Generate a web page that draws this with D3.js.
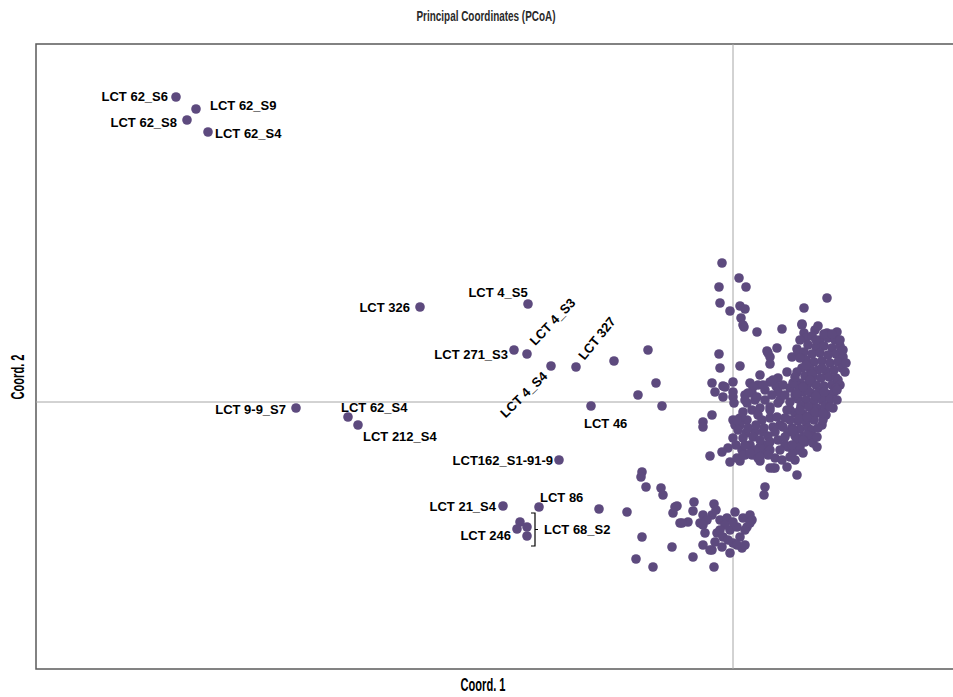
<!DOCTYPE html>
<html>
<head>
<meta charset="utf-8">
<script src="https://cdn.jsdelivr.net/npm/d3@7/dist/d3.min.js"></script>
<style>
  html, body { margin: 0; padding: 0; background: #fff; }
  svg { display: block; }
</style>
</head>
<body>
<svg id="chart" width="953" height="697"></svg>
<script>
// ---------------- DATA ----------------
const chartTitle = "Principal Coordinates (PCoA)";
const xAxisTitle = "Coord. 1";
const yAxisTitle = "Coord. 2";

// labelled samples
const labelNames = [
  "LCT 62_S6", "LCT 62_S9", "LCT 62_S8", "LCT 62_S4", "LCT 326", "LCT 4_S5",
  "LCT 271_S3", "LCT 4_S3", "LCT 4_S4", "LCT 327", "LCT 46", "LCT 9-9_S7",
  "LCT 62_S4", "LCT 212_S4", "LCT162_S1-91-9", "LCT 21_S4", "LCT 86", "LCT 246"
];
const labelCoord1 = [
  -0.557, -0.537, -0.546, -0.525, -0.313, -0.205,
  -0.219, -0.206, -0.182, -0.157, -0.142, -0.437,
  -0.385, -0.375, -0.174, -0.230, -0.194, -0.216
];
const labelCoord2 = [
  0.305, 0.293, 0.282, 0.270, 0.095, 0.098,
  0.052, 0.048, 0.036, 0.035, -0.004, -0.006,
  -0.015, -0.023, -0.058, -0.104, -0.105, -0.127
];

// bracketed group
const groupName = "LCT 68_S2";
const groupCoord1 = [-0.213, -0.206, -0.206];
const groupCoord2 = [-0.120, -0.125, -0.134];

// unlabelled samples [coord1, coord2]
const otherPoints = [
  [-0.119,0.041],[-0.085,0.052],[-0.077,0.019],[-0.095,0.007],[-0.071,-0.004],
  [-0.091,-0.070],[-0.092,-0.075],[-0.087,-0.085],[-0.072,-0.086],[-0.070,-0.093],
  [-0.134,-0.107],[-0.106,-0.110],[-0.056,-0.104],[-0.060,-0.111],[-0.039,-0.100],
  [-0.040,-0.109],[-0.019,-0.102],[-0.053,-0.121],[-0.045,-0.120],[-0.033,-0.121],
  [-0.030,-0.113],[-0.021,-0.113],[-0.013,-0.118],[-0.006,-0.116],[-0.091,-0.135],
  [-0.061,-0.145],[-0.030,-0.143],[-0.021,-0.148],[-0.016,-0.131],[-0.010,-0.135],
  [-0.003,-0.128],[0.004,-0.125],[0.010,-0.116],[0.017,-0.113],[0.014,-0.125],
  [0.007,-0.135],[0.000,-0.141],[-0.003,-0.151],[0.009,-0.146],[-0.097,-0.157],
  [-0.080,-0.165],[-0.040,-0.155],[-0.019,-0.165],[0.032,-0.085],[0.031,-0.093],
  [-0.003,-0.060],[0.007,-0.059],[0.027,-0.059],[0.037,-0.066],
  [-0.058,-0.105],[-0.026,-0.118],[-0.017,-0.108],[-0.008,-0.123],[0.002,-0.110],
  [0.012,-0.128],[0.019,-0.118],[0.000,-0.120],[-0.013,-0.128],[-0.005,-0.138],
  [0.004,-0.143],[-0.018,-0.140],[-0.028,-0.131],[0.012,-0.143],[-0.011,-0.145],
  [-0.030,-0.123],[-0.051,-0.121],[0.017,-0.121],[-0.023,-0.148],
  [-0.011,0.139],[0.006,0.124],[-0.014,0.115],[0.013,0.115],[-0.013,0.099],
  [-0.003,0.091],[0.007,0.096],[0.012,0.093],[0.008,0.084],[0.011,0.075],
  [0.024,0.070],[0.049,0.073],[0.071,0.094],[0.094,0.104],[0.069,0.078],
  [0.071,0.069],[0.082,0.072],[0.085,0.076],[0.094,0.069],[0.104,0.070],
  [-0.014,0.048],[-0.013,0.034],[0.007,0.036],[0.034,0.051],[0.044,0.054],
  [0.037,0.045],[0.037,0.038],[0.059,0.045],[0.064,0.053],
  [0.010,0.077],[0.069,0.077],[0.094,0.067],[0.035,0.049],[0.065,0.050],
  [0.073,0.064],[0.079,0.066],[0.087,0.062],[0.095,0.064],[0.102,0.062],
  [0.075,0.057],[0.083,0.055],[0.091,0.056],[0.099,0.054],[0.107,0.056],
  [0.071,0.050],[0.079,0.048],[0.087,0.049],[0.095,0.047],[0.103,0.048],
  [0.110,0.045],[0.073,0.042],[0.081,0.040],[0.089,0.041],[0.097,0.039],
  [0.105,0.040],[0.069,0.034],[0.077,0.033],[0.085,0.032],[0.093,0.031],
  [0.101,0.032],[0.109,0.034],[0.072,0.026],[0.080,0.025],[0.088,0.024],
  [0.096,0.025],[0.103,0.024],[0.067,0.019],[0.075,0.018],[0.083,0.017],
  [0.091,0.016],[0.099,0.017],[0.070,0.010],[0.078,0.009],[0.086,0.010],
  [0.094,0.008],[0.101,0.010],[0.065,0.003],[0.073,0.002],[0.081,0.001],
  [0.089,0.002],[0.097,0.003],[0.068,-0.004],[0.076,-0.005],[0.084,-0.006],
  [0.092,-0.004],[0.062,-0.011],[0.070,-0.012],[0.078,-0.013],[0.086,-0.011],
  [0.065,-0.019],[0.073,-0.020],[0.081,-0.018],[0.059,-0.026],[0.067,-0.027],
  [0.075,-0.026],[0.062,-0.034],[0.070,-0.035],[0.112,0.030],[0.105,0.022],
  [0.067,0.062],[0.083,0.062],[0.091,0.068],[0.099,0.068],[0.107,0.062],
  [0.067,0.044],[0.113,0.039],[0.110,0.052],[0.107,0.017],[0.075,0.011],
  [0.083,0.006],[0.091,0.010],[0.066,-0.016],[0.074,-0.015],[0.082,-0.010],
  [0.089,-0.023],[0.079,-0.028],[0.072,-0.040],[0.064,-0.038],[0.055,-0.045],
  [0.062,-0.058],[0.052,-0.043],[0.042,-0.056],[0.029,-0.050],[0.019,-0.053],
  [0.009,-0.048],[0.003,-0.043],[0.002,-0.023],[0.014,-0.018],[0.022,-0.030],
  [0.035,-0.034],[0.047,-0.023],[0.057,-0.008],[0.062,0.007],[0.057,0.014],
  [0.047,0.002],[0.037,-0.016],[0.027,-0.006],[0.019,-0.008],[0.013,-0.031],
  [0.033,-0.043],[0.055,-0.030],[0.065,-0.048],[0.077,-0.034],[0.085,-0.026],
  [0.093,-0.013],[0.100,-0.006],[0.103,0.014],[0.089,0.034],[0.073,0.037],
  [0.079,0.028],[0.065,0.016],[0.043,0.016],[0.032,0.012],[0.022,0.002],
  [0.007,-0.016],[-0.005,-0.046],[-0.011,-0.050],
  [-0.021,0.019],[-0.010,0.016],[0.000,0.020],[-0.018,0.010],[0.000,0.005],
  [0.001,-0.001],[0.025,0.017],[0.019,0.009],[0.037,0.020],[0.045,0.024],
  [0.045,0.010],[0.064,0.030],[0.060,0.019],[-0.021,-0.013],[-0.030,-0.020],
  [-0.030,-0.025],[0.000,-0.018],[0.010,-0.010],[0.014,-0.001],[0.025,-0.013],
  [0.029,-0.018],[0.037,-0.008],[0.045,-0.001],[0.000,-0.036],[0.010,-0.036],
  [0.020,-0.035],[0.030,-0.030],[0.040,-0.025],[0.037,-0.040],[0.045,-0.038],
  [-0.023,-0.054],[0.004,-0.056],[0.012,-0.053],[0.025,-0.056],[0.037,-0.048],
  [0.049,-0.058],[0.057,-0.055],[0.042,-0.066],[0.054,-0.065],[0.064,-0.073],
  [0.060,-0.050],[0.067,-0.045],[0.080,-0.041],[0.084,-0.035],[0.074,-0.033],
  [0.090,-0.018],[0.090,-0.011],[0.097,-0.005],[0.104,0.002],[0.104,0.012],
  [0.067,-0.008],[0.057,-0.018],[0.060,-0.028],[0.050,-0.025],[0.064,0.009],
  [0.070,0.015],[0.077,0.022],[0.054,-0.008],[0.070,-0.038],
  [0.007,-0.023],[0.015,-0.026],[0.023,-0.023],[0.031,-0.026],[0.017,-0.043],
  [0.027,-0.045],[0.042,-0.030],[0.052,-0.035],[0.059,-0.043],[0.047,-0.048],
  [0.035,-0.053],[0.022,-0.048],[0.012,-0.043],[0.005,-0.028],[0.027,-0.038],
  [0.052,-0.016],[0.044,-0.015],[0.032,0.002],[0.039,0.007],[0.052,0.007],
  [0.057,0.000],[0.050,0.017],[0.062,0.025],[0.054,0.030],[0.027,0.027],
  [0.017,0.019],[0.012,0.007],
  [-0.008,0.015],[0.000,0.010],[-0.010,0.005],[0.020,0.015],[0.015,0.009],
  [0.012,0.002],[0.040,0.022],[0.030,0.017],[0.024,0.005],[0.037,-0.005],
  [0.004,-0.018],[0.010,-0.053],[0.017,-0.051],[0.027,-0.055],[0.040,-0.066],
  [0.070,-0.051],[0.084,-0.045]
];

// ---------------- LAYOUT / STYLE ----------------
const plot = { left: 36, top: 44, right: 986, bottom: 669 };
const pointColor = "#5d4a7e";
const pointR = 4.8;
const labelFont = "'Liberation Sans', Arial, sans-serif";

// label placement per labelled index: [dx, dy, anchor, rotate]
const labelLayout = [
  [-8, -1, "end", 0], [14, -4, "start", 0], [-10, 2, "end", 0], [7, 1, "start", 0],
  [-10, 0, "end", 0], [-30, -12, "middle", 0], [-6, 4, "end", 0], [5, -11, "start", -46],
  [-6, 8, "end", -44], [5, -9, "start", -51], [-7, 17, "start", 0], [-10, 1, "end", 0],
  [-7, -10, "start", 0], [5, 11, "start", 0], [-6, 0, "end", 0], [-7, 0, "end", 0],
  [1, -10, "start", 0], [-6, 6, "end", 0]
];

const svg = d3.select("#chart");

const x = d3.scaleLinear().domain([-0.697, 0.253]).range([plot.left, plot.right]);
const y = d3.scaleLinear().domain([-0.267, 0.358]).range([plot.bottom, plot.top]);

// frame
svg.append("rect")
  .attr("x", plot.left).attr("y", plot.top)
  .attr("width", plot.right - plot.left).attr("height", plot.bottom - plot.top)
  .attr("fill", "none").attr("stroke", "#5a5a5a").attr("stroke-width", 1.5);

// zero lines
svg.append("line")
  .attr("x1", x(0)).attr("x2", x(0)).attr("y1", plot.top).attr("y2", plot.bottom)
  .attr("stroke", "#a6a6a6").attr("stroke-width", 1);
svg.append("line")
  .attr("x1", plot.left).attr("x2", plot.right).attr("y1", y(0)).attr("y2", y(0))
  .attr("stroke", "#a6a6a6").attr("stroke-width", 1);

// points
const allPts = otherPoints.map(d => ({ c1: d[0], c2: d[1] }))
  .concat(groupCoord1.map((v, i) => ({ c1: v, c2: groupCoord2[i] })))
  .concat(labelNames.map((n, i) => ({ c1: labelCoord1[i], c2: labelCoord2[i] })));

svg.append("g").selectAll("circle").data(allPts).join("circle")
  .attr("cx", d => x(d.c1)).attr("cy", d => y(d.c2))
  .attr("r", pointR).attr("fill", pointColor);

// labels
const lab = svg.append("g")
  .attr("font-family", labelFont).attr("font-weight", "bold")
  .attr("font-size", 13).attr("fill", "#000");

labelNames.forEach((name, i) => {
  const [dx, dy, anchor, rot] = labelLayout[i];
  const px = x(labelCoord1[i]) + dx, py = y(labelCoord2[i]) + dy;
  lab.append("text")
    .attr("transform", `translate(${px},${py}) rotate(${rot})`)
    .attr("text-anchor", anchor)
    .attr("dominant-baseline", "central")
    .text(name);
});

// bracket for group
const gx = x(d3.max(groupCoord1)) + 8;
const gTop = y(d3.max(groupCoord2)) - 9;
const gBot = y(d3.min(groupCoord2)) + 10;
const gMid = (gTop + gBot) / 2;
svg.append("path")
  .attr("d", `M${gx - 4},${gTop} H${gx} V${gBot} H${gx - 4} M${gx},${gMid} H${gx + 3}`)
  .attr("fill", "none").attr("stroke", "#000").attr("stroke-width", 1.2);
lab.append("text")
  .attr("x", gx + 9).attr("y", gMid)
  .attr("dominant-baseline", "central")
  .text(groupName);

// titles
svg.append("text")
  .attr("x", 486).attr("y", 16)
  .attr("text-anchor", "middle").attr("dominant-baseline", "central")
  .attr("font-family", labelFont).attr("font-size", 14).attr("font-weight", "bold")
  .attr("fill", "#2a2a2a")
  .attr("textLength", 139).attr("lengthAdjust", "spacingAndGlyphs")
  .text(chartTitle);

svg.append("text")
  .attr("x", 483).attr("y", 685)
  .attr("text-anchor", "middle").attr("dominant-baseline", "central")
  .attr("font-family", labelFont).attr("font-size", 18).attr("font-weight", "bold")
  .attr("fill", "#000")
  .attr("textLength", 45).attr("lengthAdjust", "spacingAndGlyphs")
  .text(xAxisTitle);

svg.append("text")
  .attr("transform", `translate(18,377) rotate(-90)`)
  .attr("text-anchor", "middle").attr("dominant-baseline", "central")
  .attr("font-family", labelFont).attr("font-size", 18).attr("font-weight", "bold")
  .attr("fill", "#000")
  .attr("textLength", 45).attr("lengthAdjust", "spacingAndGlyphs")
  .text(yAxisTitle);
</script>
</body>
</html>
